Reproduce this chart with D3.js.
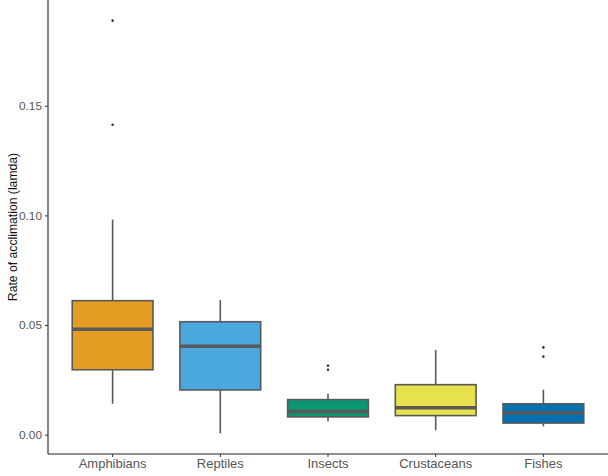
<!DOCTYPE html>
<html>
<head>
<meta charset="utf-8">
<script src="https://cdn.jsdelivr.net/npm/d3@7"></script>
<style>
  body { margin: 0; background: #fff; }
  svg { display: block; }
</style>
</head>
<body>
<div class="chart"></div>
<script>
// groups and their box stats
const groups = ["Amphibians", "Reptiles", "Insects", "Crustaceans", "Fishes"];
const colors = ["#E49D22", "#4AA8DE", "#0A9870", "#E6E14C", "#0670B0"];
const lowerWhisker = [0.0141, 0.0006, 0.0061, 0.0020, 0.0038];
const q1 = [0.0296, 0.0204, 0.0081, 0.0087, 0.0053];
const median = [0.0481, 0.0403, 0.0106, 0.0123, 0.0100];
const q3 = [0.0611, 0.0515, 0.0160, 0.0228, 0.0141];
const upperWhisker = [0.0981, 0.0615, 0.0187, 0.0386, 0.0205];
const outliers = [[0.1888, 0.1413], [], [0.0314, 0.0296], [], [0.0398, 0.0356]];
const yTicks = [0, 0.05, 0.10, 0.15];

const width = 608, height = 476;
const margin = { top: 0, right: 0, bottom: 22, left: 48 };

const svg = d3.select(".chart").append("svg")
    .attr("width", width)
    .attr("height", height);

// ggplot style expansion of the y range
const lo = d3.min(lowerWhisker), hi = d3.max(outliers.flat());
const pad = (hi - lo) * 0.05;
const y = d3.scaleLinear()
    .domain([lo - pad, hi + pad])
    .range([height - margin.bottom, margin.top]);

const x = d3.scaleBand()
    .domain(groups)
    .range([margin.left, width - margin.right])
    .paddingOuter(0.1)
    .paddingInner(0);

const boxW = x.bandwidth() * 0.75;

const data = groups.map((g, i) => ({
    name: g, color: colors[i],
    lw: lowerWhisker[i], q1: q1[i], med: median[i], q3: q3[i], uw: upperWhisker[i],
    out: outliers[i]
}));

const g = svg.append("g");

const box = g.selectAll("g.box")
    .data(data)
    .join("g")
    .attr("class", "box")
    .attr("transform", d => `translate(${x(d.name) + x.bandwidth() / 2},0)`);

//whiskers
box.append("line")
    .attr("y1", d => y(d.lw))
    .attr("y2", d => y(d.q1))
    .attr("stroke", "#595959")
    .attr("stroke-width", 1.6);
box.append("line")
    .attr("y1", d => y(d.q3))
    .attr("y2", d => y(d.uw))
    .attr("stroke", "#595959")
    .attr("stroke-width", 1.6);

//boxes
box.append("rect")
    .attr("x", -boxW / 2)
    .attr("width", boxW)
    .attr("y", d => y(d.q3))
    .attr("height", d => y(d.q1) - y(d.q3))
    .attr("fill", d => d.color)
    .attr("stroke", "#595959")
    .attr("stroke-width", 1.6);

//median
box.append("line")
    .attr("x1", -boxW / 2)
    .attr("x2", boxW / 2)
    .attr("y1", d => y(d.med))
    .attr("y2", d => y(d.med))
    .attr("stroke", "#595959")
    .attr("stroke-width", 3.4);

//outliers
box.selectAll("circle")
    .data(d => d.out)
    .join("circle")
    .attr("cy", d => y(d))
    .attr("r", 1.3)
    .attr("fill", "#333");

// axes
const yAxis = svg.append("g")
    .attr("transform", `translate(${margin.left},0)`)
    .call(d3.axisLeft(y).tickValues(yTicks).tickFormat(d3.format(".2f")).tickSize(3).tickPadding(3));

const xAxis = svg.append("g")
    .attr("transform", `translate(0,${height - margin.bottom})`)
    .call(d3.axisBottom(x).tickSize(3).tickPadding(2));

[yAxis, xAxis].forEach(a => {
    a.select(".domain").attr("stroke", "#222").attr("stroke-width", 1.1);
    a.selectAll(".tick line").attr("stroke", "#333").attr("stroke-width", 1);
    a.selectAll(".tick text")
        .attr("fill", "#555")
        .attr("font-family", "Liberation Sans, Arial, sans-serif")
        .attr("font-size", 11.8);
});
xAxis.selectAll(".tick text").attr("font-size", 13);
// stop the axis lines at the plot edges (no outer ticks)
xAxis.select(".domain").attr("d", `M${margin.left},0H${width - margin.right}`);
yAxis.select(".domain").attr("d", `M0,${height - margin.bottom}V${margin.top}`);

svg.append("text")
    .attr("transform", `translate(13,${(height - margin.bottom) / 2}) rotate(-90)`)
    .attr("text-anchor", "middle")
    .attr("dy", "0.35em")
    .attr("font-family", "Liberation Sans, Arial, sans-serif")
    .attr("font-size", 12.2)
    .attr("fill", "#111")
    .text("Rate of acclimation (lamda)");
</script>
</body>
</html>
